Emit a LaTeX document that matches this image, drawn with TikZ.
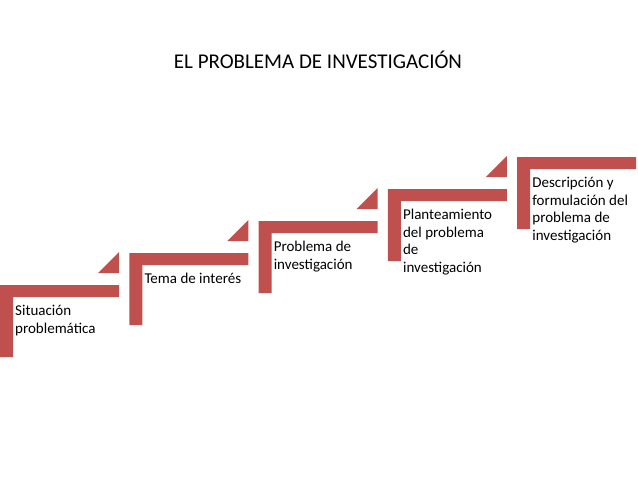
\documentclass[tikz,border=0pt]{standalone}
\usepackage{fontspec}
\setmainfont{Carlito}
\definecolor{stepred}{HTML}{C0504D}
\begin{document}
\begin{tikzpicture}[x=1pt,y=-1pt,
  bar/.style={fill=stepred,draw=none},
  lbl/.style={anchor=north west,align=left,font=\fontsize{15}{17.5}\selectfont,inner sep=0pt}]
\useasboundingbox (0,0) rectangle (638,479);
\node[font=\fontsize{21}{24}\selectfont] (title) at (318,60) {EL PROBLEMA DE INVESTIGACIÓN};
\foreach \i/\t in {0/{Situación\\problemática},1/{Tema de interés},2/{Problema de\\investigación},3/{Planteamiento\\del problema\\de\\investigación},4/{Descripción y\\formulación del\\problema de\\investigación}}{
  \pgfmathsetmacro{\xx}{\i*129.3}
  \pgfmathsetmacro{\yy}{285-\i*32}
  \fill[bar] (\xx,\yy) -- (\xx+119,\yy) -- (\xx+119,\yy+12) -- (\xx+13,\yy+12) -- (\xx+13,\yy+72) -- (\xx,\yy+72) -- cycle;
  \node[lbl] (s\i) at (\xx+15,\yy+20) {\t};
}
\foreach \i in {0,1,2,3}{
  \pgfmathsetmacro{\xx}{\i*129.3}
  \pgfmathsetmacro{\yy}{285-\i*32}
  \fill[bar] (\xx+98,\yy-12) -- (\xx+119,\yy-12) -- (\xx+119,\yy-33) -- cycle;
}
\end{tikzpicture}
\end{document}
